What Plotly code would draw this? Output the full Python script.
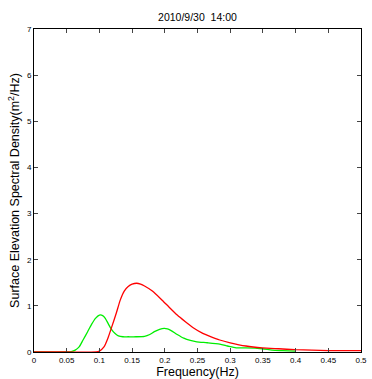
import plotly.graph_objects as go

red_f = [0, 0.05, 0.095, 0.1, 0.107, 0.113, 0.119, 0.126, 0.132, 0.138, 0.144, 0.150, 0.157, 0.163, 0.169, 0.181, 0.194, 0.206, 0.219, 0.231, 0.244, 0.256, 0.269, 0.284, 0.30, 0.324, 0.349, 0.374, 0.399, 0.425, 0.45, 0.475, 0.5]
red_v = [0, 0, 0, 0.02, 0.11, 0.3, 0.55, 0.85, 1.13, 1.32, 1.42, 1.47, 1.49, 1.47, 1.43, 1.32, 1.15, 0.98, 0.8, 0.66, 0.52, 0.42, 0.34, 0.26, 0.2, 0.13, 0.09, 0.07, 0.05, 0.04, 0.03, 0.03, 0.03]

green_f = [0, 0.05, 0.057, 0.063, 0.069, 0.075, 0.082, 0.088, 0.094, 0.1, 0.105, 0.109, 0.114, 0.119, 0.124, 0.129, 0.136, 0.144, 0.156, 0.169, 0.177, 0.184, 0.192, 0.199, 0.204, 0.209, 0.219, 0.229, 0.239, 0.249, 0.265, 0.284, 0.296, 0.309, 0.324, 0.349, 0.364, 0.38, 0.4]
green_v = [0, 0, 0.01, 0.04, 0.11, 0.26, 0.44, 0.6, 0.73, 0.8, 0.79, 0.73, 0.6, 0.48, 0.4, 0.35, 0.33, 0.33, 0.33, 0.34, 0.38, 0.44, 0.49, 0.51, 0.5, 0.47, 0.38, 0.3, 0.25, 0.22, 0.2, 0.17, 0.13, 0.09, 0.09, 0.07, 0.04, 0.03, 0.02]

x_ticks = [0, 0.05, 0.1, 0.15, 0.2, 0.25, 0.3, 0.35, 0.4, 0.45, 0.5]
x_tick_labels = ["0", "0.05", "0.1", "0.15", "0.2", "0.25", "0.3", "0.35", "0.4", "0.45", "0.5"]
y_ticks = [0, 1, 2, 3, 4, 5, 6, 7]

fig = go.Figure()
fig.add_trace(go.Scatter(x=green_f, y=green_v, mode="lines", line=dict(color="#00ee00", width=1.3, shape="spline", smoothing=0.6), showlegend=False))
fig.add_trace(go.Scatter(x=red_f, y=red_v, mode="lines", line=dict(color="#ff0000", width=1.3, shape="spline", smoothing=0.6), showlegend=False))

font = "Liberation Sans, Arial, Helvetica, sans-serif"
fig.update_layout(
    width=372, height=379,
    margin=dict(l=34, r=5, t=29, b=27),
    paper_bgcolor="white", plot_bgcolor="white",
    font=dict(family=font, color="black", size=8),
    title=dict(text="2010/9/30  14:00", x=0.5, xref="paper", xanchor="center", y=1, yref="paper", yanchor="bottom", pad=dict(b=8), font=dict(size=10.5)),
    xaxis=dict(range=[0, 0.5], tickvals=x_ticks, ticktext=x_tick_labels, ticks="inside", ticklen=4, tickwidth=1,
               showline=True, linecolor="black", linewidth=1, mirror="ticks", showgrid=False, zeroline=False,
               ticklabeloverflow="allow",
               title=dict(text="Frequency(Hz)", font=dict(size=12.5), standoff=1), tickfont=dict(size=8)),
    yaxis=dict(range=[0, 7], tickvals=y_ticks, ticks="inside", ticklen=4, tickwidth=1,
               showline=True, linecolor="black", linewidth=1, mirror="ticks", showgrid=False, zeroline=False,
               title=dict(text="Surface Elevation Spectral Density(m<sup>2</sup>/Hz)", font=dict(size=12.5), standoff=4), tickfont=dict(size=8)),
)
fig.write_html("out.html")
